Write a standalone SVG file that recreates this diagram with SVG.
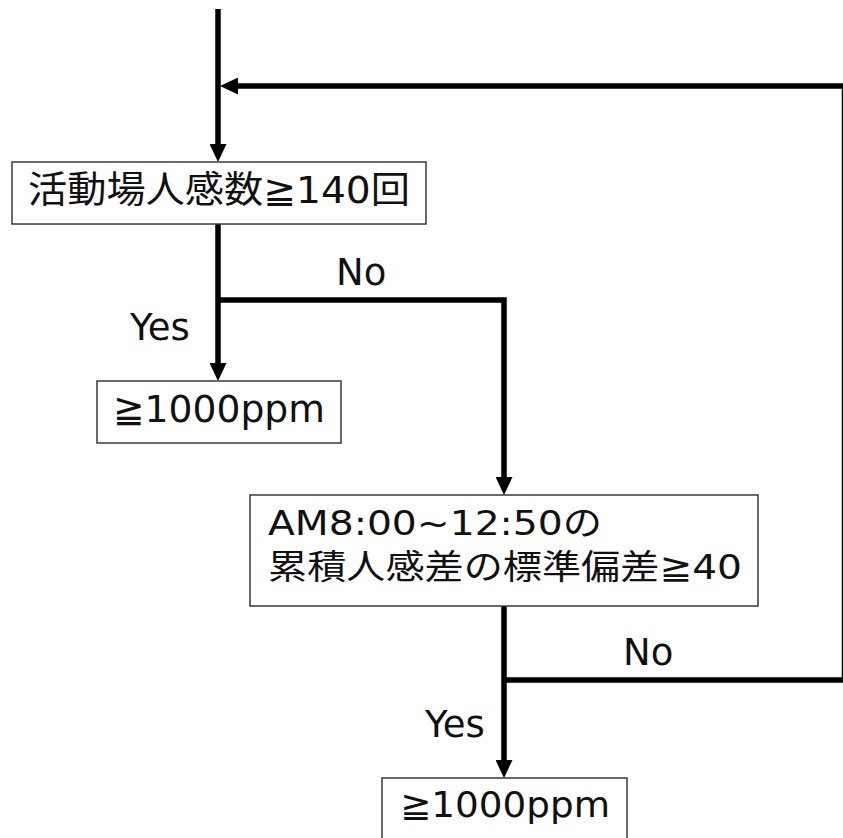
<svg xmlns="http://www.w3.org/2000/svg" width="843" height="838" viewBox="0 0 843 838">
<style>
.box{fill:#fff;stroke:#3a3a3a;stroke-width:1.5}
.t{font-family:"DejaVu Sans","Noto Sans CJK JP",sans-serif;fill:#111}
.lbl{font-family:"DejaVu Sans","Noto Sans CJK JP",sans-serif;fill:#111;font-size:37px}
.c{fill:none;stroke:#000;stroke-width:5.5;stroke-linejoin:miter}
</style>
<defs>
<marker id="ah" viewBox="0 0 18 17" markerWidth="18" markerHeight="17" markerUnits="userSpaceOnUse" refX="2" refY="8.5" orient="auto">
<path d="M0,0 L18,8.5 L0,17 z" fill="#000"/>
</marker>
</defs>
<rect width="843" height="838" fill="#fff"/>
<g id="connectors">
<path class="c" d="M218,9 V146" marker-end="url(#ah)"/>
<path class="c" d="M218,224 V365" marker-end="url(#ah)"/>
<path class="c" d="M218,300 H504 V479" marker-end="url(#ah)"/>
<path class="c" d="M504,606 V762" marker-end="url(#ah)"/>
<path class="c" d="M504,680 H844.5 V86 H236" marker-end="url(#ah)"/>
<text class="lbl" x="336" y="285">No</text>
<text class="lbl" x="130" y="340">Yes</text>
<text class="lbl" x="623" y="665">No</text>
<text class="lbl" x="425" y="737">Yes</text>
</g>
<g id="node1">
<rect class="box" x="12" y="162" width="414" height="62"/>
<text class="t" x="28" y="203" font-size="37" textLength="382" lengthAdjust="spacingAndGlyphs">活動場人感数≧140回</text>
</g>
<g id="node2">
<rect class="box" x="97" y="381" width="244" height="62"/>
<text class="t" x="113" y="422" font-size="38" textLength="212" lengthAdjust="spacingAndGlyphs">≧1000ppm</text>
</g>
<g id="node3">
<rect class="box" x="250" y="495" width="508" height="111"/>
<text class="t" x="268" y="535" font-size="34" textLength="334" lengthAdjust="spacingAndGlyphs">AM8:00~12:50の</text>
<text class="t" x="268" y="579" font-size="34" textLength="474" lengthAdjust="spacingAndGlyphs">累積人感差の標準偏差≧40</text>
</g>
<g id="node4">
<rect class="box" x="382" y="778" width="245" height="75"/>
<text class="t" x="400" y="817" font-size="35" textLength="210" lengthAdjust="spacingAndGlyphs">≧1000ppm</text>
</g>
</svg>
